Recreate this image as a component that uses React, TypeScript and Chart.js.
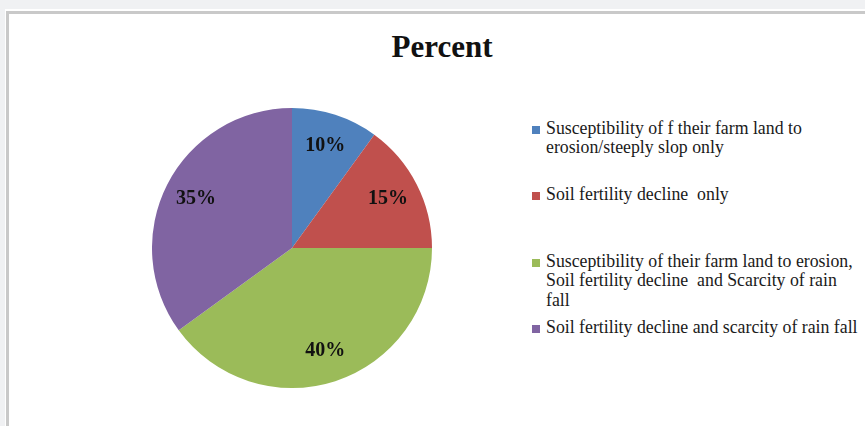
import React, { useEffect, useRef } from "react";
import { Chart, registerables } from "chart.js";

Chart.register(...registerables);

const title = "Percent";
const categories = [
  ["Susceptibility of f their farm land to", "erosion/steeply slop only"],
  ["Soil fertility decline  only"],
  ["Susceptibility of their farm land to erosion,", "Soil fertility decline  and Scarcity of rain", "fall"],
  ["Soil fertility decline and scarcity of rain fall"],
];
const values = [10, 15, 40, 35];
const colors = ["#4f81bd", "#c0504d", "#9bbb59", "#8064a2"];

const labelPlugin = {
  id: "sliceLabels",
  afterDatasetsDraw(chart: any) {
    const ctx = chart.ctx;
    const meta = chart.getDatasetMeta(0);
    ctx.save();
    ctx.font = "bold 20px 'Liberation Serif', 'Times New Roman', serif";
    ctx.fillStyle = "#111";
    ctx.textAlign = "center";
    ctx.textBaseline = "middle";
    meta.data.forEach((arc: any, i: number) => {
      const p = arc.getProps(["x", "y", "startAngle", "endAngle", "outerRadius"], true);
      const mid = (p.startAngle + p.endAngle) / 2;
      const r = p.outerRadius * 0.77;
      ctx.fillText(values[i] + "%", p.x + Math.cos(mid) * r, p.y + Math.sin(mid) * r);
    });
    ctx.restore();
  },
};

export default function App() {
  const ref = useRef<HTMLCanvasElement | null>(null);
  useEffect(() => {
    if (!ref.current) return;
    const chart = new Chart(ref.current, {
      type: "pie",
      data: {
        labels: categories.map((c) => c.join(" ")),
        datasets: [
          {
            data: values,
            backgroundColor: colors,
            borderWidth: 0,
          },
        ],
      },
      options: {
        animation: false,
        responsive: false,
        maintainAspectRatio: false,
        layout: { padding: 0 },
        plugins: {
          legend: { display: false },
          tooltip: { enabled: false },
          title: { display: false },
        },
      },
      plugins: [labelPlugin],
    });
    return () => chart.destroy();
  }, []);

  const serif = "'Liberation Serif', 'Times New Roman', serif";
  return (
    <div style={{ position: "fixed", left: 0, top: 0, width: 865, height: 426, background: "#f0f1f3", overflow: "hidden" }}>
      <div style={{ position: "absolute", left: 5, top: 9, width: 900, height: 500, background: "#fff" }} />
      <div
        style={{
          position: "absolute",
          left: 6,
          top: 11,
          width: 900,
          height: 500,
          borderLeft: "3px solid #c9c9c9",
          borderTop: "3px solid #c9c9c9",
        }}
      />
      <div
        style={{
          position: "absolute",
          left: 0,
          width: 884,
          top: 31,
          textAlign: "center",
          font: `bold 31px/31px ${serif}`,
          color: "#111",
        }}
      >
        {title}
      </div>
      <canvas
        ref={ref}
        width={280}
        height={280}
        style={{ position: "absolute", left: 151.5, top: 108, width: 280, height: 280 }}
      />
      {categories.map((lines, i) => (
        <div key={i} style={{ position: "absolute", left: 532, top: 118.5 + i * 66.5 }}>
          <div style={{ position: "absolute", left: 0, top: 7, width: 8, height: 8, background: colors[i] }} />
          <div
            style={{
              position: "absolute",
              left: 14,
              top: 0,
              whiteSpace: "pre",
              font: `17.8px/19.5px ${serif}`,
              color: "#1a1a1a",
            }}
          >
            {lines.map((l, j) => (
              <div key={j}>{l}</div>
            ))}
          </div>
        </div>
      ))}
    </div>
  );
}
